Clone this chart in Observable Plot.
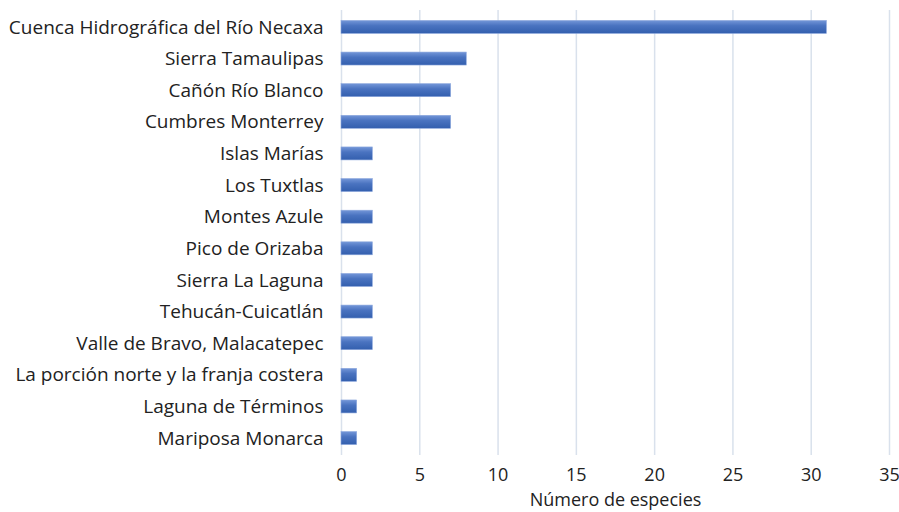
<!DOCTYPE html>
<html><head><meta charset="utf-8">
<script src="https://cdn.jsdelivr.net/npm/d3@7"></script>
<script src="https://cdn.jsdelivr.net/npm/@observablehq/plot@0.6"></script>
<style>
body{margin:0;background:#fff;}
#chart svg{font-family:"Open Sans",sans-serif;}
</style>
</head><body><div id="chart"></div>
<script>
const categories = [
  "Cuenca Hidrográfica del Río Necaxa",
  "Sierra Tamaulipas",
  "Cañón Río Blanco",
  "Cumbres Monterrey",
  "Islas Marías",
  "Los Tuxtlas",
  "Montes Azule",
  "Pico de Orizaba",
  "Sierra La Laguna",
  "Tehucán-Cuicatlán",
  "Valle de Bravo, Malacatepec",
  "La porción norte y la franja costera",
  "Laguna de Términos",
  "Mariposa Monarca"
];
const values = [31, 8, 7, 7, 2, 2, 2, 2, 2, 2, 2, 1, 1, 1];
const xTicks = [0, 5, 10, 15, 20, 25, 30, 35];
const xLabel = "Número de especies";

const data = categories.map((c, i) => ({name: c, value: values[i]}));

const defs = () => {
  const d = d3.create("svg:defs");
  const g = d.append("linearGradient").attr("id", "barGrad")
    .attr("x1", 0).attr("y1", 0).attr("x2", 0).attr("y2", 1);
  g.append("stop").attr("offset", "0%").attr("stop-color", "#7396d8");
  g.append("stop").attr("offset", "40%").attr("stop-color", "#4a73c0");
  g.append("stop").attr("offset", "100%").attr("stop-color", "#335fae");
  return d.node();
};

const chart = Plot.plot({
  width: 899,
  height: 512,
  marginLeft: 341,
  marginRight: 10,
  marginTop: 10,
  marginBottom: 57,
  style: {fontSize: "19px", color: "#222", background: "#fff"},
  x: {domain: [0, 35], ticks: xTicks, label: null},
  y: {domain: categories, paddingInner: 0.59, paddingOuter: 0.33, round: false, label: null},
  marks: [
    defs,
    Plot.gridX(xTicks, {stroke: "#d9e1ec", strokeOpacity: 1, strokeWidth: 1.5}),
    Plot.barX(data, {x: "value", y: "name", fill: "url(#barGrad)", stroke: "#8aa6dc", strokeWidth: 0.6}),
    Plot.axisX(xTicks, {tickSize: 0, tickPadding: 13, fontSize: 18, label: null}),
    Plot.axisY({tickSize: 0, tickPadding: 18, fontSize: 19, label: null}),
    Plot.text([xLabel], {frameAnchor: "bottom", lineAnchor: "top", dy: 38.2, fontSize: 18, fill: "#222"})
  ]
});
document.getElementById("chart").append(chart);
</script>
</body></html>
